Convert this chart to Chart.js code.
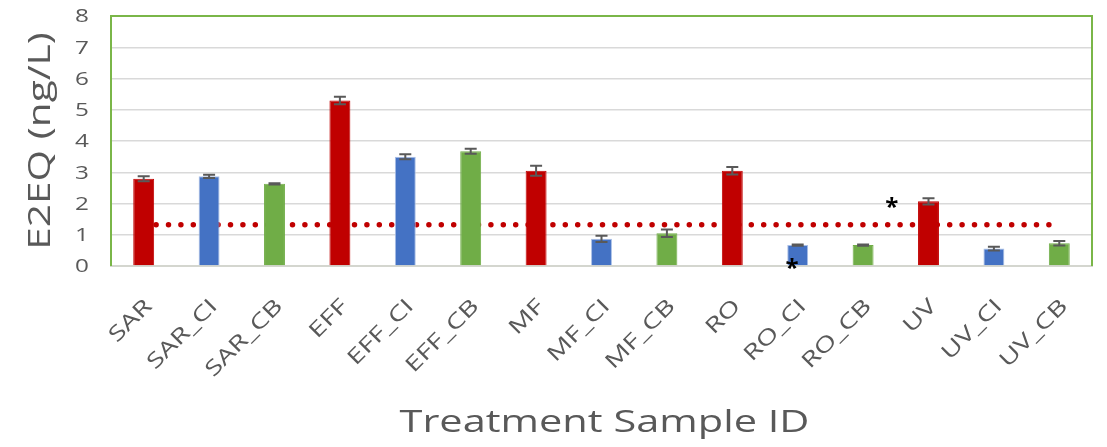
<!DOCTYPE html>
<html>
<head>
<meta charset="utf-8">
<script src="https://cdn.jsdelivr.net/npm/chart.js@4.4.1/dist/chart.umd.min.js"></script>
<style>
  html, body { margin: 0; padding: 0; background: #ffffff; }
  #wrap { width: 1107px; height: 447px; }
</style>
</head>
<body>
<div id="wrap"><canvas id="chart" width="1107" height="447"></canvas></div>
<script>
// Sample IDs along the x axis
const categories = ['SAR', 'SAR_CI', 'SAR_CB', 'EFF', 'EFF_CI', 'EFF_CB', 'MF', 'MF_CI', 'MF_CB',
                    'RO', 'RO_CI', 'RO_CB', 'UV', 'UV_CI', 'UV_CB'];
// Mean E2EQ (ng/L) per sample
const values = [2.79, 2.87, 2.63, 5.30, 3.50, 3.67, 3.05, 0.87, 1.05, 3.05, 0.67, 0.67, 2.07, 0.56, 0.73];
// Error bar half-widths (ng/L)
const errors = [0.08, 0.05, 0.02, 0.12, 0.08, 0.08, 0.16, 0.10, 0.12, 0.12, 0.02, 0.02, 0.10, 0.06, 0.07];
// Reference level drawn as the dotted red line
const threshold = 1.32;
// y-axis tick values
const yTicks = [0, 1, 2, 3, 4, 5, 6, 7, 8];
// Axis titles
const xTitle = 'Treatment Sample ID';
const yTitle = 'E2EQ (ng/L)';
// Significance asterisks: category index, offset in category widths, value
const markerCats = [10, 11];
const markerOffsets = [-0.085, 0.44];
const markerValues = [0.08, 2.03];

const RED = '#C00000', BLUE = '#4472C4', GREEN = '#70AD47';
const groupColors = [RED, BLUE, GREEN];
const barColors = categories.map((_, i) => groupColors[i % 3]);
const barBorders = categories.map((_, i) => (i % 3 === 1 ? '#A9BFE6' : groupColors[i % 3]));
const FONT = "'Open Sans', 'Noto Sans', sans-serif";
const TEXT = '#595959';

// Draws a horizontally widened text run at (x, y) with the given rotation.
function wideText(ctx, text, x, y, size, rot, widen, align) {
  ctx.save();
  ctx.translate(x, y);
  ctx.rotate(rot);
  ctx.scale(widen, 1);
  ctx.font = size + 'px ' + FONT;
  ctx.textAlign = align;
  ctx.textBaseline = 'alphabetic';
  ctx.fillText(text, 0, 0);
  ctx.restore();
}

const decorations = {
  id: 'decorations',
  afterDatasetsDraw(chart) {
    const ctx = chart.ctx;
    const x = chart.scales.x, y = chart.scales.y;
    // error bars
    ctx.save();
    ctx.strokeStyle = '#595959';
    ctx.lineWidth = 2;
    values.forEach((v, i) => {
      const px = x.getPixelForValue(i);
      const top = y.getPixelForValue(v + errors[i]);
      const bot = y.getPixelForValue(v - errors[i]);
      ctx.beginPath();
      ctx.moveTo(px, top); ctx.lineTo(px, bot);
      ctx.moveTo(px - 6, top); ctx.lineTo(px + 6, top);
      ctx.moveTo(px - 6, bot); ctx.lineTo(px + 6, bot);
      ctx.stroke();
    });
    ctx.restore();
    // asterisks
    ctx.save();
    ctx.fillStyle = '#000000';
    ctx.font = "bold 24px " + FONT;
    ctx.textAlign = 'center';
    ctx.textBaseline = 'alphabetic';
    const catW = x.getPixelForValue(1) - x.getPixelForValue(0);
    markerCats.forEach((c, k) => {
      const px = x.getPixelForValue(c) + markerOffsets[k] * catW;
      const py = y.getPixelForValue(markerValues[k]);
      const m = ctx.measureText('*');
      const shift = (m.actualBoundingBoxAscent - m.actualBoundingBoxDescent) / 2;
      ctx.fillText('*', px, py + shift);
    });
    ctx.restore();
  },
  afterDraw(chart) {
    const ctx = chart.ctx;
    const a = chart.chartArea;
    const x = chart.scales.x, y = chart.scales.y;
    // plot-area frame
    ctx.save();
    ctx.strokeStyle = '#7AB648';
    ctx.lineWidth = 2;
    ctx.beginPath();
    ctx.moveTo(a.left, a.bottom);
    ctx.lineTo(a.left, a.top);
    ctx.lineTo(a.right, a.top);
    ctx.lineTo(a.right, a.bottom);
    ctx.stroke();
    ctx.restore();

    ctx.save();
    ctx.fillStyle = TEXT;
    // y tick labels
    const ySize = 18;
    yTicks.forEach(v => {
      wideText(ctx, String(v), a.left - 22, y.getPixelForValue(v) + 0.357 * ySize, ySize, 0, 1.35, 'right');
    });
    // x tick labels, rotated 45 degrees
    const xSize = 21;
    const r = -Math.PI / 4;
    const dy = 0.357 * xSize;
    categories.forEach((c, i) => {
      const px = x.getPixelForValue(i) + 4 - dy * Math.sin(r);
      const py = a.bottom + 36 + dy * Math.cos(r);
      wideText(ctx, c, px, py, xSize, r, 1.35, 'right');
    });
    // axis titles
    wideText(ctx, xTitle, (a.left + a.right) / 2 + 3, 431.5, 31, 0, 1.34, 'center');
    wideText(ctx, yTitle, 50, (a.top + a.bottom) / 2, 31, -Math.PI / 2, 1.31, 'center');
    ctx.restore();
  }
};

new Chart(document.getElementById('chart'), {
  type: 'bar',
  data: {
    labels: categories,
    datasets: [
      {
        type: 'bar',
        data: values,
        backgroundColor: barColors,
        borderColor: barBorders,
        borderWidth: 1,
        barPercentage: 0.32,
        categoryPercentage: 1,
        order: 1
      },
      {
        type: 'line',
        data: categories.map(() => threshold),
        borderColor: RED,
        borderWidth: 5.5,
        borderDash: [0, 12.4],
        borderCapStyle: 'round',
        pointRadius: 0,
        fill: false,
        order: 2
      }
    ]
  },
  options: {
    responsive: false,
    animation: false,
    devicePixelRatio: 1,
    layout: { padding: { top: 16, right: 15, left: 0, bottom: 0 } },
    plugins: { legend: { display: false }, tooltip: { enabled: false } },
    scales: {
      x: {
        offset: true,
        grid: { display: false, drawTicks: false },
        border: { display: true, color: '#D4D6CF', width: 2 },
        ticks: { display: false, autoSkip: false },
        afterFit(scale) { scale.height = 181; }
      },
      y: {
        min: 0, max: 8,
        afterBuildTicks(scale) { scale.ticks = yTicks.map(v => ({ value: v })); },
        grid: { color: '#D9D9D9', lineWidth: 1.5, drawTicks: false },
        border: { display: false },
        ticks: { display: false },
        afterFit(scale) { scale.width = 111; }
      }
    }
  },
  plugins: [decorations]
});
</script>
</body>
</html>
